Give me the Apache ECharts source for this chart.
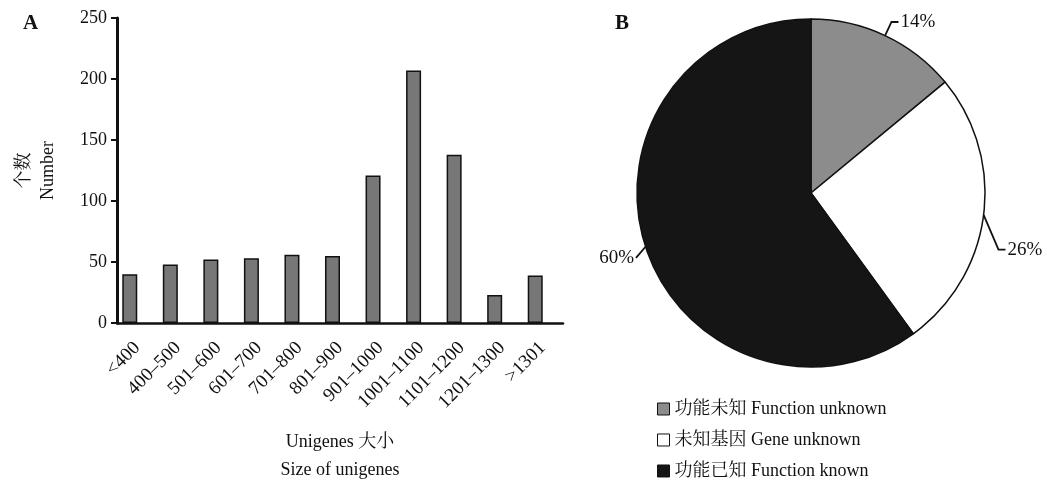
<!DOCTYPE html>
<html><head><meta charset="utf-8">
<script src="https://cdn.jsdelivr.net/npm/echarts@6/dist/echarts.min.js"></script>
<style>html,body{margin:0;padding:0;background:#fff}#c{width:1045px;height:481px}</style>
</head><body><div id="c"></div>
<script>
const categories = ['<400','400–500','501–600','601–700','701–800','801–900','901–1000','1001–1100','1101–1200','1201–1300','>1301'];
const counts = [40, 48, 52, 53, 56, 55, 121, 207, 138, 23, 39];
const yAxisMin = 0, yAxisMax = 250, yAxisStep = 50;
const pieNames = ['功能未知 Function unknown', '未知基因 Gene unknown', '功能已知 Function known'];
const pieValues = [14, 26, 60];
const pieColors = ['#8c8c8c', '#ffffff', '#151515'];

const FONT = "'Liberation Serif', 'Noto Serif CJK SC', 'Noto Sans CJK SC', serif";
const chart = echarts.init(document.getElementById('c'), null, {renderer: 'canvas'});
const labelShift = [0, 33, 8];

chart.setOption({
  animation: false,
  textStyle: {fontFamily: FONT, color: '#111'},
  title: [
    {text: 'A', left: 18, top: 8, textStyle: {fontFamily: FONT, fontSize: 21, fontWeight: 'bold', color: '#111'}},
    {text: 'B', left: 610, top: 8, textStyle: {fontFamily: FONT, fontSize: 21, fontWeight: 'bold', color: '#111'}}
  ],
  grid: {left: 117, top: 18, width: 446, height: 305, containLabel: false, outerBoundsMode: 'none'},
  xAxis: {
    type: 'category',
    data: categories,
    boundaryGap: true,
    name: 'Unigenes 大小\nSize of unigenes',
    nameLocation: 'middle',
    nameGap: 105,
    nameTextStyle: {fontFamily: FONT, fontSize: 18, color: '#111', lineHeight: 28},
    axisLine: {lineStyle: {color: '#111', width: 2.5}},
    axisTick: {alignWithLabel: true, length: 9, lineStyle: {color: '#111', width: 2}},
    axisLabel: {rotate: 45, fontSize: 19, color: '#111', margin: 22, interval: 0, fontFamily: FONT, hideOverlap: false}
  },
  yAxis: {
    type: 'value',
    min: yAxisMin, max: yAxisMax, interval: yAxisStep,
    name: '个数\nNumber',
    nameLocation: 'middle',
    nameRotate: 90,
    nameGap: 57,
    nameTextStyle: {fontFamily: FONT, fontSize: 18, color: '#111', lineHeight: 24},
    splitLine: {show: false},
    axisLine: {show: true, lineStyle: {color: '#111', width: 3}},
    axisTick: {show: true, length: 6, lineStyle: {color: '#111', width: 2}},
    axisLabel: {fontSize: 18, color: '#111', margin: 10, fontFamily: FONT}
  },
  legend: {
    orient: 'vertical',
    left: 657, top: 400, height: 120, width: 320,
    padding: 0,
    itemWidth: 12, itemHeight: 12, itemGap: 13,
    data: pieNames,
    icon: 'rect',
    textStyle: {fontFamily: FONT, fontSize: 18, color: '#111'},
    itemStyle: {borderColor: '#111', borderWidth: 1}
  },
  series: [
    {
      type: 'bar',
      data: counts,
      barWidth: 15,
      barGap: '0%',
      itemStyle: {color: '#777777', borderColor: '#111', borderWidth: 1.5}
    },
    {
      type: 'bar',
      data: categories.map(() => '-'),
      barWidth: 15,
      silent: true
    },
    {
      type: 'pie',
      center: [811, 193],
      radius: 174,
      startAngle: 90,
      clockwise: true,
      data: pieNames.map((n, i) => ({
        name: n, value: pieValues[i],
        itemStyle: {color: pieColors[i]},
        labelLine: {length: i === 2 ? 10 : 15, length2: i === 2 ? 0 : 7}
      })),
      itemStyle: {borderColor: '#111', borderWidth: 1.5},
      label: {formatter: '{c}%', fontSize: 19, color: '#111', fontFamily: FONT, distanceToLabelLine: 2, overflow: 'none', bleedMargin: 0},
      labelLine: {lineStyle: {color: '#111', width: 1.8}},
      labelLayout: function (p) {
        const s = labelShift[p.dataIndex];
        if (!s || !p.labelLinePoints) return {};
        const pts = p.labelLinePoints;
        return {
          dy: s,
          labelLinePoints: [pts[0], [pts[1][0], pts[1][1] + s], [pts[2][0], pts[2][1] + s]]
        };
      }
    }
  ]
});
</script></body></html>
